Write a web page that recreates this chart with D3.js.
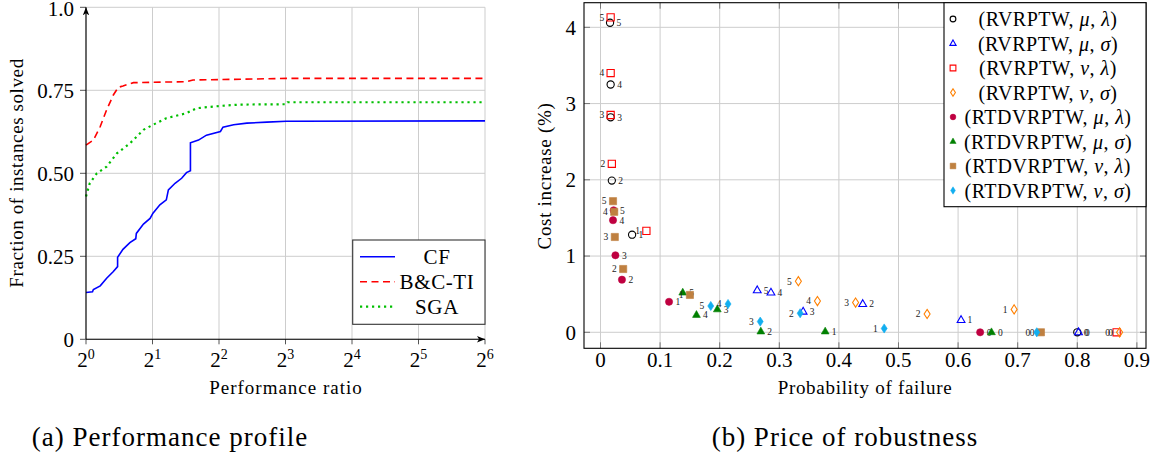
<!DOCTYPE html>
<html>
<head>
<meta charset="utf-8">
<script src="https://cdn.jsdelivr.net/npm/d3@7"></script>
<style>
  body { margin: 0; background: #fff; }
</style>
</head>
<body>
<svg id="fig" width="1156" height="464"></svg>
<script>
// ---- (a) performance profile ----
const cfRatio  = [1.00, 1.07, 1.08, 1.16, 1.24, 1.33, 1.39, 1.39, 1.47, 1.58, 1.68, 1.69, 1.82, 1.95, 2.01, 2.16, 2.31, 2.36, 2.53, 2.71, 2.85, 2.97, 2.97, 3.23, 3.51, 4.06, 4.17, 4.66, 5.35, 6.59, 8.06, 64];
const cfFrac   = [0.141, 0.143, 0.150, 0.161, 0.184, 0.204, 0.219, 0.247, 0.271, 0.291, 0.303, 0.319, 0.347, 0.364, 0.380, 0.405, 0.420, 0.450, 0.470, 0.485, 0.502, 0.508, 0.592, 0.600, 0.615, 0.626, 0.639, 0.646, 0.651, 0.654, 0.657, 0.658];
const bcRatio  = [1.00, 1.08, 1.16, 1.24, 1.33, 1.40, 1.47, 1.64, 2.85, 3.05, 5.74, 8.11, 64];
const bcFrac   = [0.585, 0.600, 0.641, 0.691, 0.736, 0.759, 0.763, 0.773, 0.776, 0.781, 0.784, 0.786, 0.786];
const sgaRatio = [1.00, 1.04, 1.12, 1.24, 1.38, 1.58, 1.82, 2.01, 2.31, 2.85, 3.16, 4.06, 4.99, 8.06, 8.17, 64];
const sgaFrac  = [0.430, 0.470, 0.500, 0.520, 0.560, 0.590, 0.631, 0.646, 0.666, 0.681, 0.696, 0.703, 0.707, 0.708, 0.714, 0.714];
const profileNames = ["CF", "B&C-TI", "SGA"];
const ratioExps = [0, 1, 2, 3, 4, 5, 6];
const fracTicks = [0, 0.25, 0.5, 0.75, 1];
const fracLabels = ["0", "0.25", "0.50", "0.75", "1.0"];

// ---- (b) price of robustness: [probability of failure, cost increase] for budgets 5..0 ----
const budgets = [5, 4, 3, 2, 1, 0];
const rvMuLambda  = [[0.016, 4.06], [0.017, 3.25], [0.017, 2.82], [0.019, 1.99], [0.053, 1.28], [0.800, 0]];
const rvMuSigma   = [[0.263, 0.55], [0.286, 0.52], [0.340, 0.27], [0.440, 0.37], [0.605, 0.16], [0.802, 0]];
const rvNuLambda  = [[0.017, 4.13], [0.017, 3.40], [0.017, 2.85], [0.019, 2.21], [0.077, 1.33], [0.866, 0]];
const rvNuSigma   = [[0.332, 0.67], [0.364, 0.41], [0.428, 0.39], [0.548, 0.24], [0.694, 0.30], [0.871, 0]];
const rtdMuLambda = [[0.022, 1.60], [0.021, 1.47], [0.025, 1.01], [0.036, 0.69], [0.115, 0.40], [0.637, 0]];
const rtdMuSigma  = [[0.138, 0.52], [0.161, 0.227], [0.196, 0.30], [0.269, 0.01], [0.377, 0.01], [0.656, 0]];
const rtdNuLambda = [[0.021, 1.72], [0.023, 1.58], [0.024, 1.25], [0.038, 0.83], [0.150, 0.49], [0.739, 0]];
const rtdNuSigma  = [[0.185, 0.345], [0.214, 0.371], [0.268, 0.14], [0.335, 0.25], [0.476, 0.05], [0.732, 0]];
const pofTicks = [0, 0.1, 0.2, 0.3, 0.4, 0.5, 0.6, 0.7, 0.8, 0.9];
const costTicks = [0, 1, 2, 3, 4];

const svg = d3.select("#fig");
const gridColor = "#cdcdcd";
const serif = "'Liberation Serif', Tinos, serif";

const defs = svg.append("defs");
defs.append("marker")
    .attr("id", "arrow")
    .attr("viewBox", "0 0 10 8")
    .attr("refX", 10).attr("refY", 4)
    .attr("markerWidth", 8).attr("markerHeight", 6.5)
    .attr("markerUnits", "userSpaceOnUse")
    .attr("orient", "auto")
  .append("path")
    .attr("d", "M0,0 L10,4 L0,8 L2.5,4 Z")
    .attr("fill", "#000");

// ================= (a) =================
const xa = d3.scaleLog().base(2).domain([1, 64]).range([86, 485]);
const ya = d3.scaleLinear().domain([0, 1]).range([339.3, 7.3]);
const ga = svg.append("g");

ga.selectAll(".vg").data(ratioExps).enter().append("line")
    .attr("x1", d => xa(2 ** d)).attr("x2", d => xa(2 ** d))
    .attr("y1", ya(0)).attr("y2", ya(1))
    .attr("stroke", gridColor).attr("stroke-width", 1);
ga.selectAll(".hg").data(fracTicks).enter().append("line")
    .attr("x1", xa(1)).attr("x2", xa(64))
    .attr("y1", d => ya(d)).attr("y2", d => ya(d))
    .attr("stroke", gridColor).attr("stroke-width", 1);

// ticks
ga.selectAll(".yt").data(fracTicks).enter().append("line")
    .attr("x1", xa(1) - 6).attr("x2", xa(1))
    .attr("y1", d => ya(d)).attr("y2", d => ya(d))
    .attr("stroke", "#555");
ga.selectAll(".xt").data(ratioExps).enter().append("line")
    .attr("x1", d => xa(2 ** d)).attr("x2", d => xa(2 ** d))
    .attr("y1", ya(0)).attr("y2", ya(0) + 5)
    .attr("stroke", "#555");

const lineA = (xs, ys) => d3.line()
    .x(d => xa(d))
    .y((d, i) => ya(ys[i]))(xs);

ga.append("path").attr("d", lineA(cfRatio, cfFrac))
    .attr("fill", "none").attr("stroke", "#0000ff").attr("stroke-width", 1.6);
ga.append("path").attr("d", lineA(bcRatio, bcFrac))
    .attr("fill", "none").attr("stroke", "#ff0000").attr("stroke-width", 1.6)
    .attr("stroke-dasharray", "7,4.5");
ga.append("path").attr("d", lineA(sgaRatio, sgaFrac))
    .attr("fill", "none").attr("stroke", "#00bf00").attr("stroke-width", 2.2)
    .attr("stroke-dasharray", "2.2,3.8");

// axis lines with arrows
ga.append("line")
    .attr("x1", xa(1)).attr("x2", xa(1))
    .attr("y1", ya(0)).attr("y2", ya(1))
    .attr("stroke", "#000").attr("stroke-width", 1.1)
    .attr("marker-end", "url(#arrow)");
ga.append("line")
    .attr("x1", xa(1)).attr("x2", xa(64))
    .attr("y1", ya(0)).attr("y2", ya(0))
    .attr("stroke", "#000").attr("stroke-width", 1.1)
    .attr("marker-end", "url(#arrow)");

// tick labels
ga.selectAll(".yl").data(fracTicks).enter().append("text")
    .attr("x", 74).attr("y", d => ya(d) + (d === 1 ? 1.5 : 0))
    .attr("dy", "0.35em")
    .attr("text-anchor", "end")
    .style("font-size", "21px")
    .text((d, i) => fracLabels[i]);

const xl = ga.selectAll(".xl").data(ratioExps).enter().append("text")
    .attr("x", d => xa(2 ** d)).attr("y", 367)
    .attr("text-anchor", "middle")
    .style("font-size", "21px");
xl.append("tspan").text("2");
xl.append("tspan").attr("dy", -8).style("font-size", "14px").text(d => d);

ga.append("text")
    .attr("x", 286).attr("y", 394)
    .attr("text-anchor", "middle")
    .style("font-size", "19px").style("letter-spacing", "1px")
    .text("Performance ratio");
ga.append("text")
    .attr("transform", "translate(23,173) rotate(-90)")
    .attr("text-anchor", "middle")
    .style("font-size", "19px").style("letter-spacing", "0.6px")
    .text("Fraction of instances solved");

// legend (a)
const legA = ga.append("g");
legA.append("rect")
    .attr("x", 352.7).attr("y", 240).attr("width", 132.3).attr("height", 84.3)
    .attr("fill", "#fff").attr("stroke", "#333").attr("stroke-width", 1.1);
const legStyles = [
  {c: "#0000ff", w: 1.6, dash: null},
  {c: "#ff0000", w: 1.6, dash: "7,4.5"},
  {c: "#00bf00", w: 2.2, dash: "2.2,3.8"}
];
profileNames.forEach((name, i) => {
  const yy = 256.7 + i * 25;
  const s = legStyles[i];
  const l = legA.append("line")
      .attr("x1", 360).attr("x2", 395).attr("y1", yy).attr("y2", yy)
      .attr("stroke", s.c).attr("stroke-width", s.w);
  if (s.dash) l.attr("stroke-dasharray", s.dash);
  legA.append("text")
      .attr("x", 437).attr("y", yy).attr("dy", "0.35em")
      .attr("text-anchor", "middle")
      .style("font-size", "21px").style("letter-spacing", "0.6px")
      .text(name);
});

svg.append("text")
    .attr("x", 170).attr("y", 446)
    .attr("text-anchor", "middle")
    .style("font-size", "27px").style("letter-spacing", "1px")
    .text("(a) Performance profile");

// ================= (b) =================
const xb = d3.scaleLinear().domain([-0.0277, 0.9153]).range([584, 1146]);
const yb = d3.scaleLinear().domain([-0.21, 4.323]).range([348.3, 2.7]);
const gb = svg.append("g");

gb.selectAll(".vg").data(pofTicks).enter().append("line")
    .attr("x1", d => xb(d)).attr("x2", d => xb(d))
    .attr("y1", yb.range()[0]).attr("y2", yb.range()[1])
    .attr("stroke", gridColor);
gb.selectAll(".hg").data(costTicks).enter().append("line")
    .attr("x1", xb.range()[0]).attr("x2", xb.range()[1])
    .attr("y1", d => yb(d)).attr("y2", d => yb(d))
    .attr("stroke", gridColor);

// inner ticks
pofTicks.forEach(t => {
  gb.append("line").attr("x1", xb(t)).attr("x2", xb(t))
      .attr("y1", yb.range()[0]).attr("y2", yb.range()[0] - 6).attr("stroke", "#777");
  gb.append("line").attr("x1", xb(t)).attr("x2", xb(t))
      .attr("y1", yb.range()[1]).attr("y2", yb.range()[1] + 6).attr("stroke", "#777");
});
costTicks.forEach(t => {
  gb.append("line").attr("x1", xb.range()[0]).attr("x2", xb.range()[0] + 6)
      .attr("y1", yb(t)).attr("y2", yb(t)).attr("stroke", "#777");
  gb.append("line").attr("x1", xb.range()[1]).attr("x2", xb.range()[1] - 6)
      .attr("y1", yb(t)).attr("y2", yb(t)).attr("stroke", "#777");
});

const shapes = {
  circle:   "M3.6,0A3.6,3.6 0 1,1 -3.6,0A3.6,3.6 0 1,1 3.6,0Z",
  triangle: "M0,-4.4L3.9,2.4L-3.9,2.4Z",
  square:   "M-3.6,-3.6H3.6V3.6H-3.6Z",
  diamond:  "M0,-4.6L3,0L0,4.6L-3,0Z"
};

const seriesList = [
  {data: rvMuLambda,  shape: "circle",   color: "#000000", filled: false, side: "right", lab: ["RVRPTW", "μ", "λ"]},
  {data: rvMuSigma,   shape: "triangle", color: "#0000ff", filled: false, side: "right", lab: ["RVRPTW", "μ", "σ"]},
  {data: rvNuLambda,  shape: "square",   color: "#ff0000", filled: false, side: "left",  lab: ["RVRPTW", "ν", "λ"]},
  {data: rvNuSigma,   shape: "diamond",  color: "#ff8000", filled: false, side: "left",  lab: ["RVRPTW", "ν", "σ"]},
  {data: rtdMuLambda, shape: "circle",   color: "#bf0040", filled: true,  side: "right", lab: ["RTDVRPTW", "μ", "λ"]},
  {data: rtdMuSigma,  shape: "triangle", color: "#008000", filled: true,  side: "right", lab: ["RTDVRPTW", "μ", "σ"]},
  {data: rtdNuLambda, shape: "square",   color: "#bf8040", filled: true,  side: "left",  lab: ["RTDVRPTW", "ν", "λ"]},
  {data: rtdNuSigma,  shape: "diamond",  color: "#12aef0", filled: true,  side: "left",  lab: ["RTDVRPTW", "ν", "σ"]}
];

function marker(g, s, tx, ty, scale) {
  g.append("path")
      .attr("d", shapes[s.shape])
      .attr("transform", `translate(${tx},${ty}) scale(${scale})`)
      .attr("fill", s.filled ? s.color : "none")
      .attr("stroke", s.color)
      .attr("stroke-width", s.filled ? 0.6 : 1.1 / scale);
}

seriesList.forEach(s => {
  const gs = gb.append("g");
  s.data.forEach((d, i) => {
    const px = xb(d[0]), py = yb(d[1]);
    marker(gs, s, px, py, 1);
    gs.append("text")
        .attr("x", s.side === "right" ? px + 6.5 : px - 6.5)
        .attr("y", py).attr("dy", "0.35em")
        .attr("text-anchor", s.side === "right" ? "start" : "end")
        .style("font-size", "9.5px").style("fill", "#222")
        .text(budgets[i]);
  });
});

// frame
gb.append("rect")
    .attr("x", xb.range()[0]).attr("y", yb.range()[1])
    .attr("width", xb.range()[1] - xb.range()[0])
    .attr("height", yb.range()[0] - yb.range()[1])
    .attr("fill", "none").attr("stroke", "#000").attr("stroke-width", 1.1);

gb.selectAll(".xl").data(pofTicks).enter().append("text")
    .attr("x", d => xb(d)).attr("y", 367)
    .attr("text-anchor", "middle")
    .style("font-size", "21px")
    .text(d => d === 0 ? "0" : d3.format(".1f")(d));
gb.selectAll(".yl").data(costTicks).enter().append("text")
    .attr("x", 576).attr("y", d => yb(d)).attr("dy", "0.35em")
    .attr("text-anchor", "end")
    .style("font-size", "21px")
    .text(d => d);

gb.append("text")
    .attr("x", 865).attr("y", 394)
    .attr("text-anchor", "middle")
    .style("font-size", "19px").style("letter-spacing", "0.7px")
    .text("Probability of failure");
gb.append("text")
    .attr("transform", "translate(551,176) rotate(-90)")
    .attr("text-anchor", "middle")
    .style("font-size", "19px").style("letter-spacing", "0.7px")
    .text("Cost increase (%)");

// legend (b)
const legB = gb.append("g");
legB.append("rect")
    .attr("x", 944).attr("y", 2.7).attr("width", 202).attr("height", 204)
    .attr("fill", "#fff").attr("stroke", "#000").attr("stroke-width", 1.1);
seriesList.forEach((s, i) => {
  const yy = 19 + i * 24.5;
  marker(legB, s, 953, yy, 0.8);
  const t = legB.append("text")
      .attr("x", 1048).attr("y", yy).attr("dy", "0.35em")
      .attr("text-anchor", "middle")
      .style("font-size", "20px").style("letter-spacing", "0.5px");
  t.append("tspan").text("(" + s.lab[0] + ", ");
  t.append("tspan").style("font-style", "italic").text(s.lab[1]);
  t.append("tspan").text(", ");
  t.append("tspan").style("font-style", "italic").text(s.lab[2]);
  t.append("tspan").text(")");
});

svg.append("text")
    .attr("x", 845).attr("y", 446)
    .attr("text-anchor", "middle")
    .style("font-size", "27px").style("letter-spacing", "1px")
    .text("(b) Price of robustness");

// one serif face for every text
svg.selectAll("text").style("font-family", serif).style("fill", function() {
  return this.style.fill || "#000";
});
</script>
</body>
</html>
